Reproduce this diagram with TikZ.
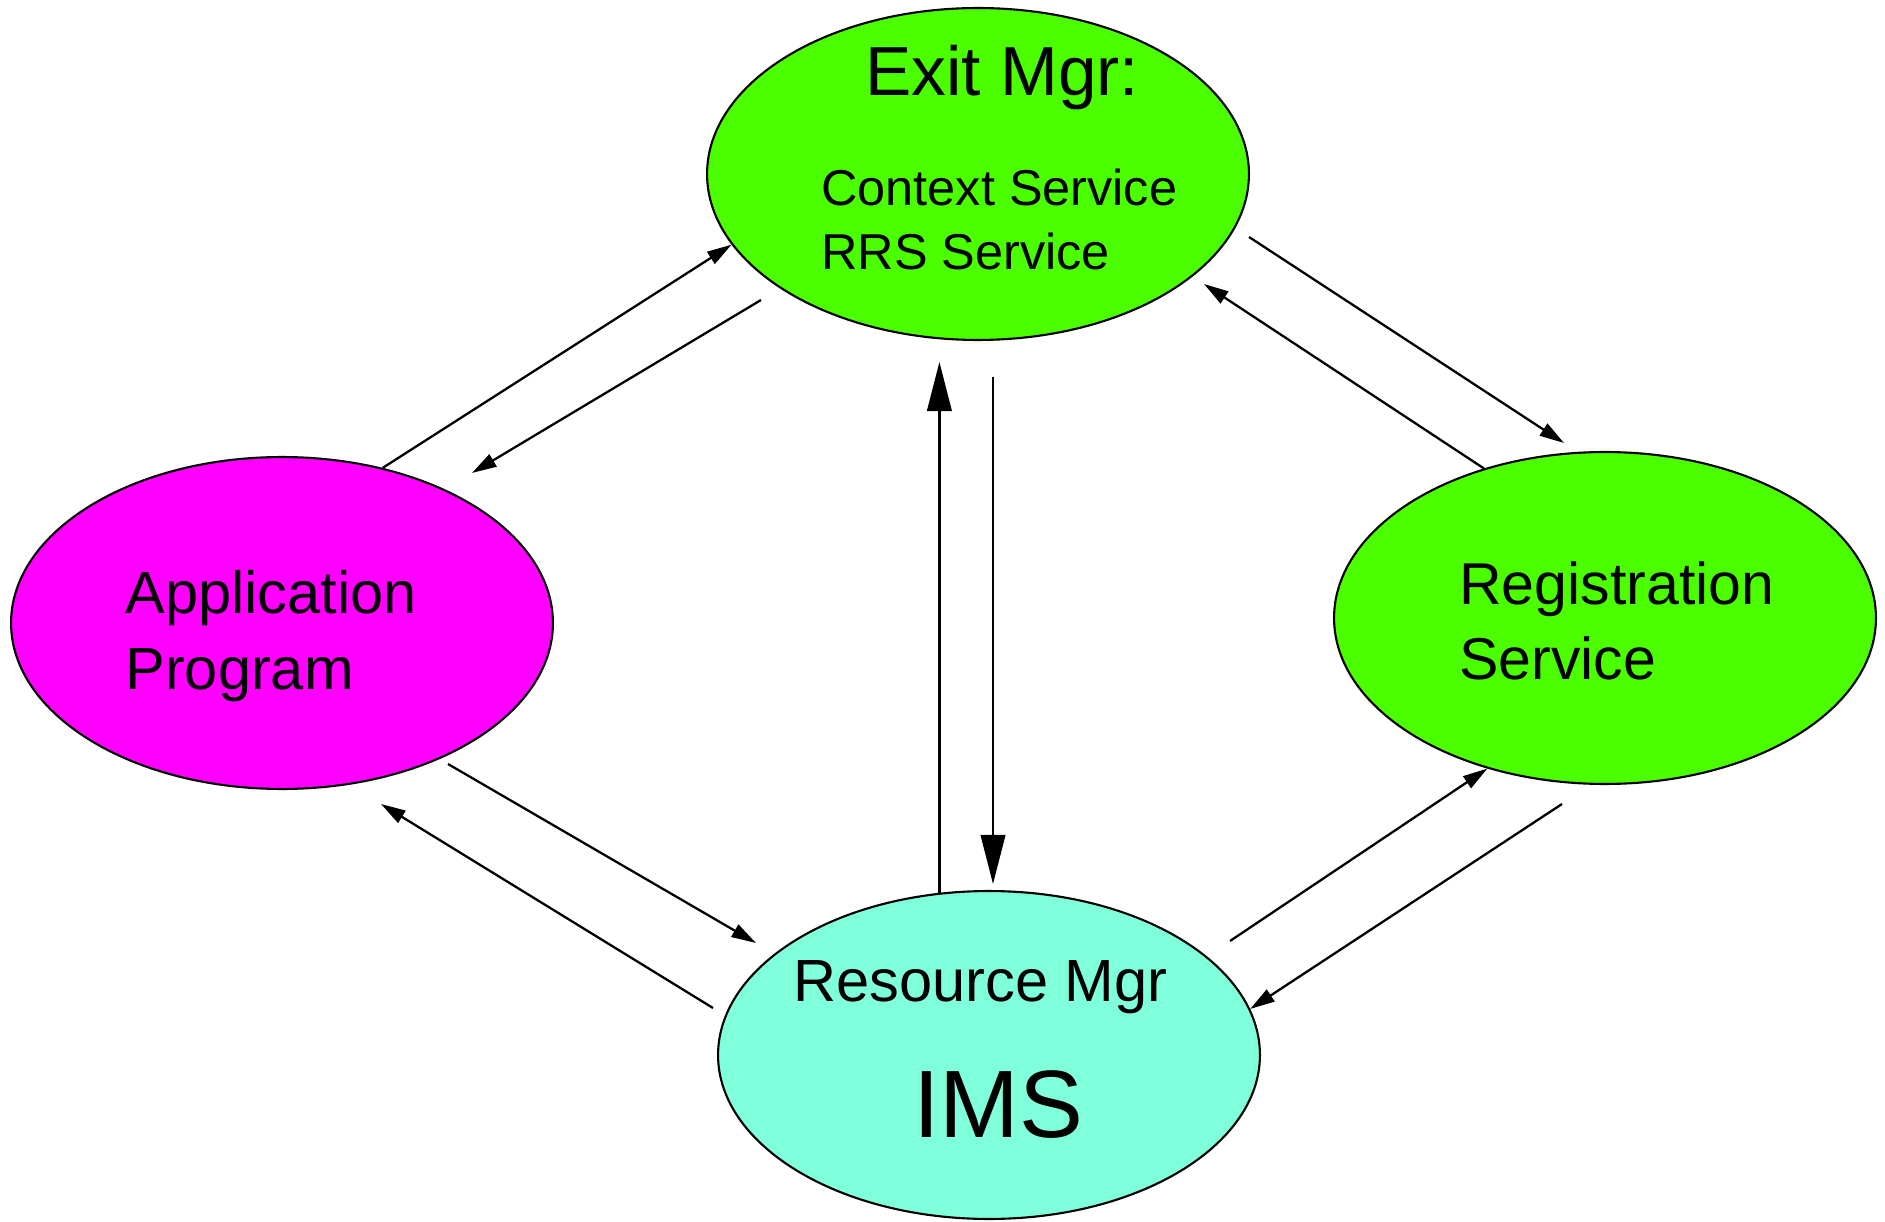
\documentclass[tikz,border=0pt]{standalone}
\usepackage{fontspec}
\setmainfont{Liberation Sans}
\usetikzlibrary{shapes.geometric,arrows.meta}
\definecolor{exitgreen}{RGB}{76,255,0}
\definecolor{appmagenta}{RGB}{255,0,255}
\definecolor{imsaqua}{RGB}{127,255,218}
\begin{document}
\begin{tikzpicture}[x=0.02cm,y=-0.02cm,
  bubble/.style={ellipse,draw,line width=1.2pt,inner sep=0pt,minimum width=10.84cm,minimum height=6.64cm},
  txt/.style={anchor=base west,inner sep=0pt},
  flow/.style={line width=1.3pt,-{Triangle[length=14pt,width=8pt]}},
  bigflow/.style={line width=1.3pt,-{Triangle[length=28pt,width=14pt]}}]
\useasboundingbox (0,0) rectangle (1885,1222);
% the four ellipses
\node[bubble,fill=exitgreen](exit) at (978,174){};
\node[bubble,fill=appmagenta](app) at (282,623){};
\node[bubble,fill=exitgreen](reg) at (1605,618){};
\node[bubble,fill=imsaqua,minimum height=6.56cm](ims) at (989,1055){};
% texts
\node[txt,font=\fontsize{39.5}{46}\selectfont](exittitle) at (865,96){Exit Mgr:};
\node[txt,font=\fontsize{28.7}{34}\selectfont](ctxsvc) at (821,206){Context Service};
\node[txt,font=\fontsize{33.9}{40}\selectfont](appline1) at (125,613){Application};
\node[txt,font=\fontsize{33.9}{40}\selectfont](appline2) at (125,689){Program};
\node[txt,font=\fontsize{28.7}{34}\selectfont](rrssvc) at (821,270){RRS Service};
\node[txt,font=\fontsize{33.6}{40}\selectfont](regline1) at (1459,604){Registration};
\node[txt,font=\fontsize{33.6}{40}\selectfont](regline2) at (1459,679){Service};
\node[txt,font=\fontsize{33.9}{40}\selectfont](rmgr) at (793,1001){Resource Mgr};
\node[txt,font=\fontsize{54.5}{62}\selectfont](imsname) at (913,1137){IMS};
% free arrow ends
\coordinate(a2s) at (761,300);
\coordinate(a2e) at (472,473);
\coordinate(a3e) at (938,362);
\coordinate(a4s) at (993,377);
\coordinate(a4e) at (993,884);
\coordinate(a5s) at (1249,237);
\coordinate(a5e) at (1564,443);
\coordinate(a6e) at (1204,284);
\coordinate(a7s) at (448,764);
\coordinate(a7e) at (756,943);
\coordinate(a8s) at (713,1008);
\coordinate(a8e) at (381,804);
\coordinate(a9s) at (1230,941);
\coordinate(a10s) at (1562,804);
% arrows
\draw[flow](app.57)--(exit.196);
\draw[flow](a2s)--(a2e);
\draw[bigflow](ims.107.5)--(ims.107.5|-a3e);
\draw[bigflow](a4s)--(a4e);
\draw[flow](a5s)--(a5e);
\draw[flow](reg.129.2)--(a6e);
\draw[flow](a7s)--(a7e);
\draw[flow](a8s)--(a8e);
\draw[flow](a9s)--(reg.232);
\draw[flow](a10s)--(ims.10);
\end{tikzpicture}
\end{document}
